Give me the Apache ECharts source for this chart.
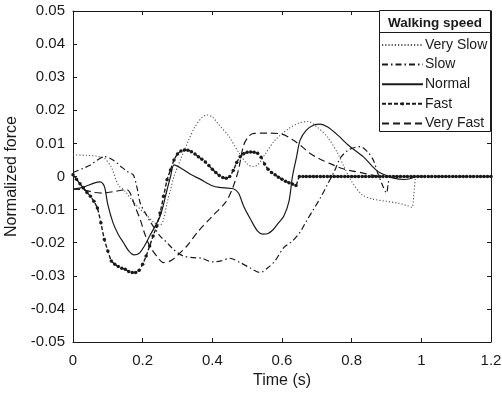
<!DOCTYPE html>
<html><head><meta charset="utf-8">
<script src="https://cdn.jsdelivr.net/npm/echarts@6/dist/echarts.min.js"></script>
<style>html,body{margin:0;padding:0;background:#fff}#c{width:502px;height:396px}</style>
</head><body><div id="c"></div>
<script>
var xTicks = [0, 0.2, 0.4, 0.6, 0.8, 1, 1.2];
var yTicks = [-0.05, -0.04, -0.03, -0.02, -0.01, 0, 0.01, 0.02, 0.03, 0.04, 0.05];
var seriesNames = ['Very Slow', 'Slow', 'Normal', 'Fast', 'Very Fast'];

var verySlowT = [0,0.04,0.07,0.09,0.11,0.13,0.15,0.18,0.21,0.23,0.25,0.26,0.27,0.28,0.29,0.31,0.33,0.35,0.37,0.385,0.40,0.42,0.445,0.475,0.50,0.515,0.53,0.55,0.58,0.62,0.65,0.675,0.70,0.73,0.76,0.78,0.80,0.83,0.86,0.90,0.93,0.96,0.973,0.978,0.983];
var verySlowV = [0.0065,0.0064,0.0061,0.0055,0.0028,-0.0025,-0.0045,-0.0085,-0.0115,-0.0137,-0.0147,-0.013,-0.008,-0.004,0.000,0.0055,0.0105,0.0150,0.0178,0.0186,0.0180,0.0155,0.0125,0.0074,0.0038,0.0030,0.0035,0.0065,0.0110,0.0145,0.0162,0.0166,0.0150,0.0120,0.0070,0.0025,-0.0015,-0.0055,-0.0068,-0.0075,-0.0080,-0.0088,-0.0093,-0.006,0.000];

var slowT = [0,0.03,0.05,0.07,0.09,0.115,0.14,0.16,0.173,0.183,0.193,0.21,0.23,0.25,0.27,0.29,0.316,0.345,0.37,0.40,0.425,0.45,0.48,0.51,0.537,0.56,0.58,0.605,0.63,0.652,0.67,0.69,0.71,0.73,0.75,0.767,0.79,0.81,0.825,0.845,0.862,0.875,0.89,0.90,0.905,0.91];
var slowV = [0.0012,0.0025,0.0035,0.005,0.006,0.005,0.0028,0.0012,0.0005,-0.003,-0.008,-0.0115,-0.015,-0.018,-0.020,-0.0222,-0.024,-0.0245,-0.0247,-0.0258,-0.0255,-0.0247,-0.026,-0.0277,-0.029,-0.0275,-0.0255,-0.0215,-0.0195,-0.0168,-0.0135,-0.0100,-0.0065,-0.0025,0.0015,0.0055,0.008,0.0088,0.009,0.0075,0.005,0.001,-0.003,-0.005,-0.002,0.000];

var normalT = [0,0.03,0.06,0.078,0.09,0.1,0.115,0.13,0.145,0.16,0.175,0.19,0.205,0.22,0.25,0.27,0.28,0.29,0.31,0.34,0.365,0.40,0.42,0.46,0.475,0.49,0.51,0.53,0.545,0.56,0.575,0.59,0.605,0.62,0.63,0.642,0.652,0.67,0.69,0.71,0.73,0.76,0.79,0.833,0.86,0.88,0.9,0.92,0.95,0.97,0.98];
var normalV = [-0.0038,-0.0032,-0.002,-0.0016,-0.003,-0.0085,-0.014,-0.0175,-0.020,-0.0225,-0.0237,-0.0232,-0.021,-0.018,-0.012,-0.004,0.0,0.0035,0.0025,0.0005,-0.0008,-0.0028,-0.0033,-0.0037,-0.005,-0.009,-0.013,-0.0165,-0.0174,-0.0172,-0.0160,-0.0140,-0.012,-0.0075,0.0,0.006,0.011,0.014,0.0155,0.0158,0.015,0.0125,0.0095,0.006,0.003,0.0012,0.0003,-0.0005,-0.0009,-0.0006,0];

var fastT = [0,0.01,0.02,0.03,0.04,0.05,0.06,0.07,0.08,0.09,
  0.1,0.11,0.12,0.13,0.14,0.15,0.16,0.17,0.18,0.19,
  0.2,0.21,0.22,0.23,0.24,0.25,0.26,0.27,0.28,0.29,
  0.3,0.31,0.32,0.33,0.34,0.35,0.36,0.37,0.38,0.39,
  0.4,0.41,0.42,0.43,0.44,0.45,0.46,0.47,0.48,0.49,
  0.5,0.51,0.52,0.53,0.54,0.55,0.56,0.57,0.58,0.59,
  0.6,0.61,0.62,0.63,0.64,0.65,0.66,0.67,0.68,0.69,
  0.7,0.71,0.72,0.73,0.74,0.75,0.76,0.77,0.78,0.79,
  0.8,0.81,0.82,0.83,0.84,0.85,0.86,0.87,0.88,0.89,
  0.9,0.91,0.92,0.93,0.94,0.95,0.96,0.97,0.98,0.99,
  1,1.01,1.02,1.03,1.04,1.05,1.06,1.07,1.08,1.09,
  1.1,1.11,1.12,1.13,1.14,1.15,1.16,1.17,1.18,1.19,
  1.2];
var fastV = [0.0005,-0.0008,-0.0022,-0.0035,-0.0048,-0.006,-0.0075,-0.0095,-0.014,-0.019,
  -0.0225,-0.0255,-0.0265,-0.0272,-0.0277,-0.028,-0.0287,-0.029,-0.029,-0.0283,
  -0.0265,-0.024,-0.021,-0.018,-0.015,-0.011,-0.006,-0.001,0.002,0.005,
  0.0068,0.0077,0.008,0.0079,0.0075,0.0068,0.006,0.0052,0.0044,0.0033,
  0.0022,0.0012,0.0003,-0.0003,-0.0005,0,0.0018,0.0042,0.006,0.0069,
  0.0073,0.0074,0.0073,0.007,0.0058,0.0038,0.0022,0.0012,0.0005,-0.0002,
  -0.0008,-0.0014,-0.0019,-0.0023,-0.0027,0,0,0,0,0,
  0,0,0,0,0,0,0,0,0,0,
  0,0,0,0,0,0,0,0,0,0,
  0,0,0,0,0,0,0,0,0,0,
  0,0,0,0,0,0,0,0,0,0,
  0,0,0,0,0,0,0,0,0,0,
  0];

var veryFastT = [0,0.03,0.06,0.086,0.12,0.155,0.164,0.178,0.193,0.205,0.22,0.24,0.26,0.28,0.30,0.327,0.36,0.40,0.44,0.46,0.475,0.49,0.505,0.52,0.56,0.60,0.632,0.66,0.68,0.71,0.74,0.77,0.80,0.83,0.86,0.88];
var veryFastV = [-0.0038,-0.004,-0.0048,-0.005,-0.0045,-0.004,-0.005,-0.009,-0.013,-0.017,-0.021,-0.024,-0.026,-0.0255,-0.0238,-0.021,-0.0165,-0.012,-0.0075,-0.003,0.002,0.0095,0.0122,0.013,0.0131,0.0128,0.011,0.0088,0.007,0.0052,0.0038,0.0025,0.0017,0.0011,0.0004,0.0];

function zip(t, v) { return t.map(function (x, i) { return [x, v[i]]; }); }

var FONT = 'Liberation Sans, Arial, Helvetica, sans-serif';
var INK = '#1a1a1a';
var chart = echarts.init(document.getElementById('c'), null, {renderer: 'canvas'});

var axisCommon = {
  axisLine: {show: true, onZero: false, lineStyle: {color: INK, width: 1}},
  axisTick: {show: true, inside: true, length: 4, lineStyle: {color: INK}},
  splitLine: {show: false}
};

chart.setOption({
  animation: false,
  backgroundColor: '#fff',
  grid: {left: 73, right: 11, top: 11, bottom: 54, containLabel: false, outerBoundsMode: 'none'},
  title: {
    text: 'Walking speed', left: 435, top: 16, textAlign: 'center', padding: 0,
    textStyle: {fontFamily: FONT, fontSize: 13.5, fontWeight: 'bold', color: INK}
  },
  graphic: [
    {type: 'rect', z: 3, shape: {x: 379.5, y: 10.5, width: 111, height: 121}, style: {fill: '#fff', stroke: INK, lineWidth: 1}},
    {type: 'line', z: 3, shape: {x1: 379.5, y1: 32.5, x2: 490.5, y2: 32.5}, style: {stroke: INK, lineWidth: 1}}
  ],
  legend: {
    orient: 'vertical', left: 381, top: 38, z: 5,
    itemWidth: 41, itemHeight: 4, itemGap: 5.6, padding: 0,
    textStyle: {fontFamily: FONT, fontSize: 14, color: INK, padding: [0, 0, 0, -3]},
    data: [
      {name: 'Very Slow', itemStyle: {opacity: 0}},
      {name: 'Slow', itemStyle: {opacity: 0}},
      {name: 'Normal', itemStyle: {opacity: 0}},
      {name: 'Fast'},
      {name: 'Very Fast', itemStyle: {opacity: 0}}
    ]
  },
  xAxis: [
    Object.assign({}, axisCommon, {
      type: 'value', min: 0, max: 1.2, interval: 0.2, position: 'bottom',
      name: 'Time (s)', nameLocation: 'middle', nameGap: 22,
      nameTextStyle: {fontFamily: FONT, fontSize: 16, color: INK},
      axisLabel: {fontFamily: FONT, fontSize: 15, color: INK, margin: 11,
        formatter: function (v) { return String(parseFloat(v.toFixed(1))); }}
    }),
    Object.assign({}, axisCommon, {
      type: 'value', min: 0, max: 1.2, interval: 0.2, position: 'top',
      axisLabel: {show: false}
    })
  ],
  yAxis: [
    Object.assign({}, axisCommon, {
      type: 'value', min: -0.05, max: 0.05, interval: 0.01, position: 'left',
      name: 'Normalized force', nameLocation: 'middle', nameGap: 43,
      nameTextStyle: {fontFamily: FONT, fontSize: 16, color: INK},
      axisLabel: {fontFamily: FONT, fontSize: 15, color: INK, margin: 8,
        formatter: function (v) { var r = Math.round(v * 100) / 100; return r === 0 ? '0' : r.toFixed(2); }}
    }),
    Object.assign({}, axisCommon, {
      type: 'value', min: -0.05, max: 0.05, interval: 0.01, position: 'right',
      axisLabel: {show: false}
    })
  ],
  series: [
    {name: 'Very Slow', type: 'line', data: zip(verySlowT, verySlowV), smooth: 0.3, showSymbol: false, symbol: 'none',
      lineStyle: {color: '#555', width: 1.1, type: [1.2, 2]}, itemStyle: {color: '#555'}},
    {name: 'Slow', type: 'line', data: zip(slowT, slowV), smooth: 0.3, symbol: 'none',
      lineStyle: {color: INK, width: 1.2, type: [6, 3, 1.5, 3]}, itemStyle: {color: INK}},
    {name: 'Normal', type: 'line', data: zip(normalT, normalV), smooth: 0.3, symbol: 'none',
      lineStyle: {color: INK, width: 1.2, type: 'solid'}, itemStyle: {color: INK}},
    {name: 'Fast', type: 'line', data: zip(fastT, fastV), smooth: 0.2, symbol: 'circle', symbolSize: 3.5, showSymbol: true,
      lineStyle: {color: INK, width: 1.4, type: [4, 2]}, itemStyle: {color: INK}},
    {name: 'Very Fast', type: 'line', data: zip(veryFastT, veryFastV), smooth: 0.3, symbol: 'none',
      lineStyle: {color: INK, width: 1.2, type: [7, 4]}, itemStyle: {color: INK}}
  ]
});
</script></body></html>
